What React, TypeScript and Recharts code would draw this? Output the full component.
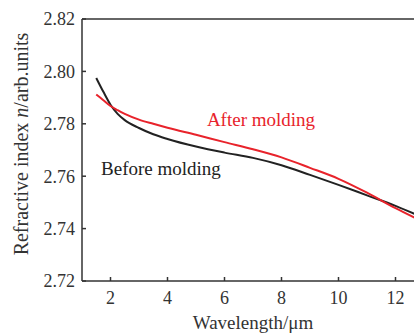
import { LineChart, Line, XAxis, YAxis, ReferenceLine, ReferenceDot } from 'recharts'

const wavelength = [1.5, 1.75, 2, 2.25, 2.5, 3, 3.5, 4, 5, 6, 7, 8, 9, 10, 11, 12, 12.7]
const beforeMolding = [2.7975, 2.7922, 2.7873, 2.7838, 2.7814, 2.7784, 2.776, 2.7742, 2.7713, 2.769, 2.767, 2.7642, 2.7605, 2.7567, 2.7527, 2.7487, 2.7455]
const afterMolding = [2.7912, 2.789, 2.7868, 2.7852, 2.7838, 2.7816, 2.78, 2.7785, 2.7758, 2.773, 2.7703, 2.7672, 2.7632, 2.759, 2.7537, 2.7478, 2.744]

const xTicks = [2, 4, 6, 8, 10, 12]
const yTicks = [2.72, 2.74, 2.76, 2.78, 2.8, 2.82]

const FONT = '"Liberation Serif", "DejaVu Serif", serif'
const AXIS = '#333'
const RED = '#e8232b'
const BLACK = '#222'

const data = wavelength.map((w, i) => ({ w, before: beforeMolding[i], after: afterMolding[i] }))

function YTitle({ viewBox }: any) {
  const cx = 21
  const cy = viewBox.y + viewBox.height / 2 - 6
  return (
    <text
      x={cx}
      y={cy}
      transform={`rotate(-90 ${cx} ${cy})`}
      textAnchor="middle"
      dominantBaseline="central"
      fontFamily={FONT}
      fontSize={20}
      fill={AXIS}
    >
      Refractive index <tspan fontStyle="italic">n</tspan>/arb.units
    </text>
  )
}

export default function App() {
  return (
    <div style={{ position: 'absolute', left: 0, top: 0, width: 414, height: 333, overflow: 'hidden', background: '#fff' }}>
      <LineChart width={424} height={333} data={data} margin={{ top: 19, right: 0, bottom: 0, left: 0 }}>
        <XAxis
          dataKey="w"
          type="number"
          domain={[1, 13]}
          ticks={xTicks}
          allowDataOverflow
          height={52}
          stroke={AXIS}
          strokeWidth={1.5}
          tickSize={-4}
          tickMargin={14}
          tick={{ fontFamily: FONT, fontSize: 18, fill: AXIS }}
          label={{ value: 'Wavelength/μm', position: 'insideBottom', offset: 4, fontFamily: FONT, fontSize: 19, fill: AXIS }}
        />
        <YAxis
          type="number"
          domain={[2.72, 2.82]}
          ticks={yTicks}
          width={82}
          stroke={AXIS}
          strokeWidth={1.5}
          tickSize={-4}
          tickMargin={11}
          tickFormatter={(v: number) => v.toFixed(2)}
          tick={{ fontFamily: FONT, fontSize: 18, fill: AXIS }}
          label={<YTitle />}
        />
        <ReferenceLine y={2.82} stroke={AXIS} strokeWidth={1.5} />
        <Line type="monotone" dataKey="before" stroke={BLACK} strokeWidth={2} dot={false} isAnimationActive={false} />
        <Line type="monotone" dataKey="after" stroke={RED} strokeWidth={2} dot={false} isAnimationActive={false} />
        <ReferenceDot x={7.28} y={2.7818} r={0} label={{ value: 'After molding', position: 'center', fontFamily: FONT, fontSize: 19, fill: RED }} />
        <ReferenceDot x={3.77} y={2.7631} r={0} label={{ value: 'Before molding', position: 'center', fontFamily: FONT, fontSize: 19, fill: BLACK }} />
      </LineChart>
    </div>
  )
}
